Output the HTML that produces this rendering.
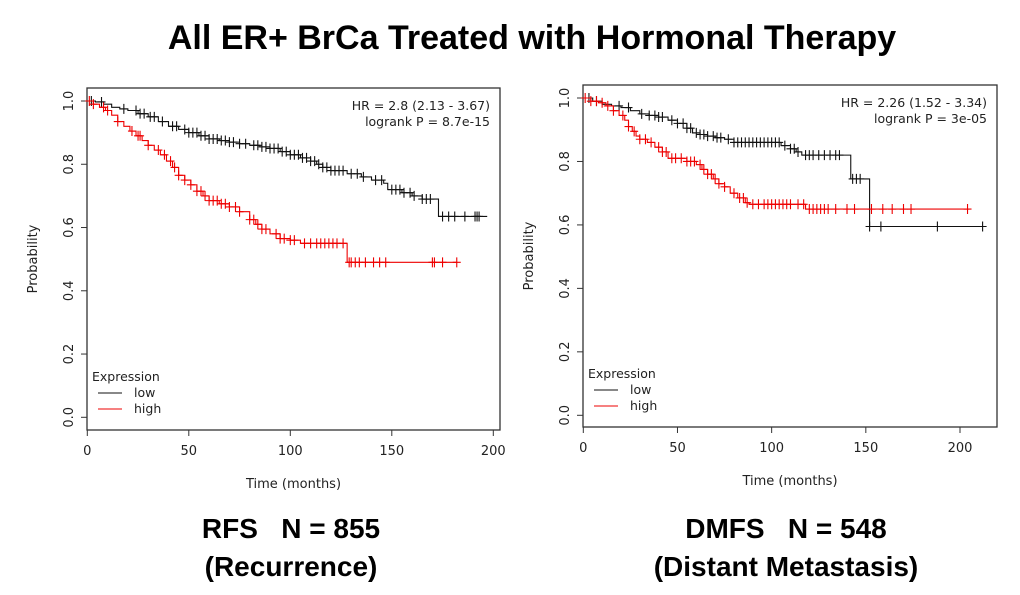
<!DOCTYPE html>
<html><head><meta charset="utf-8"><style>
html,body{margin:0;padding:0;background:#fff;width:1020px;height:595px;overflow:hidden}
svg{display:block;font-family:"DejaVu Sans","Liberation Sans",sans-serif}
.big{font-family:"Liberation Sans",Arial,sans-serif;font-weight:bold}
</style></head><body>
<svg id="s" width="1020" height="595">
<text class="big" x="532" y="49" font-size="34" text-anchor="middle">All ER+ BrCa Treated with Hormonal Therapy</text>
<text class="big" x="291" y="538" font-size="28" text-anchor="middle" xml:space="preserve">RFS   N = 855</text>
<text class="big" x="291" y="576" font-size="28" text-anchor="middle">(Recurrence)</text>
<text class="big" x="786" y="538" font-size="28" text-anchor="middle" xml:space="preserve">DMFS   N = 548</text>
<text class="big" x="786" y="576" font-size="28" text-anchor="middle">(Distant Metastasis)</text>
</svg>
<script>
const xTicks=[0,50,100,150,200];
const yTicks=[0,0.2,0.4,0.6,0.8,1.0];
const rfsLowT=[0,4,8,12,16,20,25,30,35,40,45,50,55,60,65,70,75,80,85,90,95,100,105,110,113,116,120,125,128,135,140,146,148,155,160,165,173,197];
const rfsLowS=[1,0.997,0.99,0.98,0.975,0.97,0.96,0.95,0.935,0.92,0.91,0.9,0.89,0.88,0.875,0.87,0.865,0.86,0.855,0.85,0.84,0.83,0.82,0.81,0.8,0.79,0.78,0.78,0.77,0.76,0.75,0.74,0.72,0.71,0.7,0.69,0.635,0.635];
const rfsLowC=[2,7,18,24,26,28,31,33,37,42,44,48,50,52,54,56,58,60,62,64,66,68,70,72,75,78,82,84,86,88,90,92,94,96,98,100,102,104,106,108,110,112,114,116,118,120,122,124,126,130,133,136,142,145,150,152,154,156,159,161,165,167,169,175,178,181,186,191,192,193];
const rfsHighT=[0,3,6,9,12,15,18,21,24,27,30,33,36,39,42,45,48,51,54,57,60,65,70,75,80,83,86,90,95,100,105,128,182];
const rfsHighS=[1,0.99,0.98,0.97,0.955,0.935,0.92,0.905,0.89,0.875,0.86,0.845,0.83,0.81,0.79,0.765,0.75,0.735,0.715,0.7,0.685,0.675,0.665,0.65,0.625,0.61,0.595,0.58,0.565,0.56,0.55,0.49,0.49];
const rfsHighC=[1,3,8,10,15,22,25,26,30,35,38,41,43,45,48,51,54,56,58,60,62,64,66,68,70,73,75,80,82,84,86,88,93,95,97,100,102,107,110,113,115,117,119,121,123,126,129,130,132,134,137,141,144,147,170,171,175,182];
const dmfsLowT=[0,5,10,15,20,25,30,35,40,45,50,55,58,62,66,70,75,80,105,110,113,116,142,152,212];
const dmfsLowS=[1,0.99,0.98,0.975,0.97,0.96,0.95,0.945,0.94,0.93,0.92,0.905,0.89,0.885,0.88,0.875,0.87,0.86,0.85,0.84,0.83,0.82,0.745,0.595,0.595];
const dmfsLowC=[3,7,19,24,31,35,38,40,42,47,50,53,55,57,60,62,64,66,69,71,73,77,80,82,84,86,88,90,92,94,96,98,100,102,104,107,110,112,114,118,120,122,125,128,131,134,136,143,145,147,152,158,188,212];
const dmfsHighT=[0,4,8,12,16,19,22,24,26,28,30,34,38,42,45,55,60,63,66,69,72,75,78,82,86,88,118,205];
const dmfsHighS=[1,0.99,0.985,0.975,0.96,0.945,0.93,0.91,0.895,0.88,0.87,0.86,0.845,0.83,0.81,0.8,0.79,0.775,0.76,0.745,0.73,0.72,0.7,0.685,0.67,0.665,0.65,0.65];
const dmfsHighC=[1,4,7,10,13,16,21,24,27,30,33,36,40,42,44,47,49,52,55,57,59,62,64,66,68,70,72,75,80,83,85,87,90,93,96,98,100,102,104,106,108,110,114,117,120,122,124,126,128,130,134,140,144,153,159,164,170,174,204];
const NS='http://www.w3.org/2000/svg';
const svg=document.getElementById('s');
function mk(tag,at,parent){const e=document.createElementNS(NS,tag);for(const k in at)e.setAttribute(k,at[k]);(parent||svg).appendChild(e);return e;}
function stepAt(T,S,t){let v=S[0];for(let i=0;i<T.length;i++){if(T[i]<=t)v=S[i];}return v;}
function panel(o){
  const g=mk('g',{});
  
  
  const xs=t=>o.x0+(t/200)*(o.x200-o.x0);
  const ys=v=>o.y0-(v)*(o.y0-o.y1);
  const box=mk('rect',{x:o.bl,y:o.bt,width:o.br-o.bl,height:o.bb-o.bt,fill:'none',stroke:'#333','stroke-width':1.3},g);
  
  xTicks.forEach(t=>{
    const l=mk('line',{x1:xs(t),x2:xs(t),y1:o.bb,y2:o.bb+6,stroke:'#333'},g);
    
    const tx=mk('text',{x:xs(t),y:o.bb+25,'font-size':13,'text-anchor':'middle',fill:'#222'},g);tx.textContent=t;
    
  });
  yTicks.forEach(v=>{
    const l=mk('line',{x1:o.bl-6,x2:o.bl,y1:ys(v),y2:ys(v),stroke:'#333'},g);
    
    const tx=mk('text',{x:0,y:0,'font-size':13,'text-anchor':'middle',fill:'#222',transform:`translate(${o.bl-14},${ys(v)}) rotate(-90)`},g);tx.textContent=v.toFixed(1);
    
  });
  const xl=mk('text',{x:(o.bl+o.br)/2,y:o.bb+58,'font-size':13,'text-anchor':'middle',fill:'#222'},g);xl.textContent='Time (months)';
  
  const yl=mk('text',{x:0,y:0,'font-size':13,'text-anchor':'middle',fill:'#222',transform:`translate(${o.bl-50},${(o.bt+o.bb)/2}) rotate(-90)`},g);yl.textContent='Probability';
  
  const h1=mk('text',{x:o.br-10,y:o.bt+22,'font-size':12.5,'text-anchor':'end',fill:'#222'},g);h1.textContent=o.hr;
  
  const h2=mk('text',{x:o.br-10,y:o.bt+38,'font-size':12.5,'text-anchor':'end',fill:'#222'},g);h2.textContent=o.p;
  
  [[o.lowT,o.lowS,o.lowC,'#111','low-curve'],[o.highT,o.highS,o.highC,'#e00','high-curve']].forEach(([T,S,C,col,nm])=>{
    let d=`M${xs(T[0])},${ys(S[0])}`;
    for(let i=1;i<T.length;i++){d+=` H${xs(T[i])} V${ys(S[i])}`;}
    const p=mk('path',{d:d,fill:'none',stroke:col,'stroke-width':1.1},g);
    
    C.forEach(t=>{const x=xs(t),y=ys(stepAt(T,S,t));
      const c=mk('path',{d:`M${x},${y-5}V${y+5}M${x-4},${y}H${x+4}`,stroke:col,'stroke-width':1.1},g);
      });
  });
  const lt=mk('text',{x:o.bl+5,y:o.bb-49,'font-size':12.5,fill:'#222'},g);lt.textContent='Expression';
  
  [['low','#111',-33],['high','#e00',-17]].forEach(([lab,col,dy])=>{
    const l=mk('line',{x1:o.bl+11,x2:o.bl+35,y1:o.bb+dy-4,y2:o.bb+dy-4,stroke:col,'stroke-width':1.1},g);
    
    const t=mk('text',{x:o.bl+47,y:o.bb+dy,'font-size':12.5,fill:'#222'},g);t.textContent=lab;
    
  });
}
panel({name:'rfs-chart',bl:87,br:500,bt:88,bb:430,x0:87.3,x200:493.3,y0:417.3,y1:101,hr:'HR = 2.8 (2.13 - 3.67)',p:'logrank P = 8.7e-15',lowT:rfsLowT,lowS:rfsLowS,lowC:rfsLowC,highT:rfsHighT,highS:rfsHighS,highC:rfsHighC});
panel({name:'dmfs-chart',bl:583,br:997,bt:85,bb:427,x0:583.3,x200:960,y0:415.3,y1:98,hr:'HR = 2.26 (1.52 - 3.34)',p:'logrank P = 3e-05',lowT:dmfsLowT,lowS:dmfsLowS,lowC:dmfsLowC,highT:dmfsHighT,highS:dmfsHighS,highC:dmfsHighC});
</script>
</body></html>
